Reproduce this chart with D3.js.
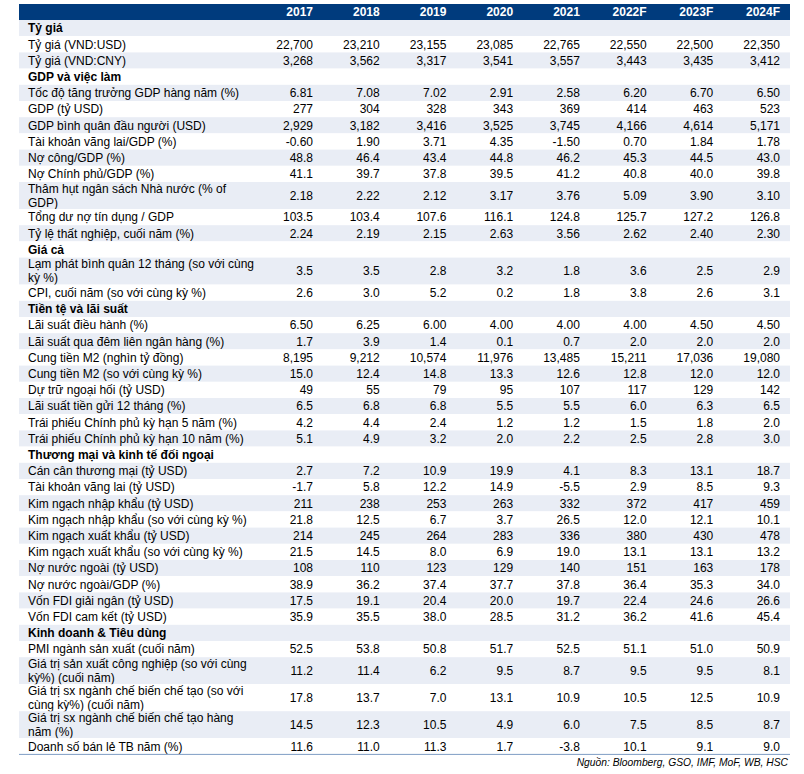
<!DOCTYPE html>
<html>
<head>
<meta charset="utf-8">
<script src="https://cdn.jsdelivr.net/npm/d3@7"></script>
<style>
  html, body { margin: 0; padding: 0; background: #fff; }
  svg { display: block; }
</style>
</head>
<body>
<div id="chart"></div>
<script>
// ---------- DATA ----------
const years = ["2017", "2018", "2019", "2020", "2021", "2022F", "2023F", "2024F"];

const sections = [
  "Tỷ giá",
  "GDP và việc làm",
  "Giá cả",
  "Tiền tệ và lãi suất",
  "Thương mại và kinh tế đối ngoại",
  "Kinh doanh & Tiêu dùng"
];

// section index each indicator belongs to
const indicatorSection = [
  0, 0,
  1, 1, 1, 1, 1, 1, 1, 1, 1,
  2, 2,
  3, 3, 3, 3, 3, 3, 3, 3,
  4, 4, 4, 4, 4, 4, 4, 4, 4, 4,
  5, 5, 5, 5, 5
];

const indicators = [
  "Tỷ giá (VND:USD)",
  "Tỷ giá (VND:CNY)",
  "Tốc độ tăng trưởng GDP hàng năm (%)",
  "GDP (tỷ USD)",
  "GDP bình quân đầu người (USD)",
  "Tài khoản vãng lai/GDP (%)",
  "Nợ công/GDP (%)",
  "Nợ Chính phủ/GDP (%)",
  "Thâm hụt ngân sách Nhà nước (% of\nGDP)",
  "Tổng dư nợ tín dụng / GDP",
  "Tỷ lệ thất nghiệp, cuối năm (%)",
  "Lạm phát bình quân 12 tháng (so với cùng\nkỳ %)",
  "CPI, cuối năm (so với cùng kỳ %)",
  "Lãi suất điều hành (%)",
  "Lãi suất qua đêm liên ngân hàng (%)",
  "Cung tiền M2 (nghìn tỷ đồng)",
  "Cung tiền M2 (so với cùng kỳ %)",
  "Dự trữ ngoại hối (tỷ USD)",
  "Lãi suất tiền gửi 12 tháng (%)",
  "Trái phiếu Chính phủ kỳ hạn 5 năm (%)",
  "Trái phiếu Chính phủ kỳ hạn 10 năm (%)",
  "Cán cân thương mại (tỷ USD)",
  "Tài khoản vãng lai (tỷ USD)",
  "Kim ngạch nhập khẩu (tỷ USD)",
  "Kim ngạch nhập khẩu (so với cùng kỳ %)",
  "Kim ngạch xuất khẩu (tỷ USD)",
  "Kim ngạch xuất khẩu (so với cùng kỳ %)",
  "Nợ nước ngoài (tỷ USD)",
  "Nợ nước ngoài/GDP (%)",
  "Vốn FDI giải ngân (tỷ USD)",
  "Vốn FDI cam kết (tỷ USD)",
  "PMI ngành sản xuất (cuối năm)",
  "Giá trị sản xuất công nghiệp (so với cùng\nkỳ%) (cuối năm)",
  "Giá trị sx ngành chế biến chế tạo (so với\ncùng kỳ%) (cuối năm)",
  "Giá trị sx ngành chế biến chế tạo hàng\nnăm (%)",
  "Doanh số bán lẻ TB năm (%)"
];

// decimals shown for each indicator
const decimals = [
  0, 0,
  2, 0, 0, 2, 1, 1, 2, 1, 2,
  1, 1,
  2, 1, 0, 1, 0, 1, 1, 1,
  1, 1, 0, 1, 0, 1, 0, 1, 1, 1,
  1, 1, 1, 1, 1
];

const values = [
  [22700, 23210, 23155, 23085, 22765, 22550, 22500, 22350],
  [3268, 3562, 3317, 3541, 3557, 3443, 3435, 3412],
  [6.81, 7.08, 7.02, 2.91, 2.58, 6.20, 6.70, 6.50],
  [277, 304, 328, 343, 369, 414, 463, 523],
  [2929, 3182, 3416, 3525, 3745, 4166, 4614, 5171],
  [-0.60, 1.90, 3.71, 4.35, -1.50, 0.70, 1.84, 1.78],
  [48.8, 46.4, 43.4, 44.8, 46.2, 45.3, 44.5, 43.0],
  [41.1, 39.7, 37.8, 39.5, 41.2, 40.8, 40.0, 39.8],
  [2.18, 2.22, 2.12, 3.17, 3.76, 5.09, 3.90, 3.10],
  [103.5, 103.4, 107.6, 116.1, 124.8, 125.7, 127.2, 126.8],
  [2.24, 2.19, 2.15, 2.63, 3.56, 2.62, 2.40, 2.30],
  [3.5, 3.5, 2.8, 3.2, 1.8, 3.6, 2.5, 2.9],
  [2.6, 3.0, 5.2, 0.2, 1.8, 3.8, 2.6, 3.1],
  [6.50, 6.25, 6.00, 4.00, 4.00, 4.00, 4.50, 4.50],
  [1.7, 3.9, 1.4, 0.1, 0.7, 2.0, 2.0, 2.0],
  [8195, 9212, 10574, 11976, 13485, 15211, 17036, 19080],
  [15.0, 12.4, 14.8, 13.3, 12.6, 12.8, 12.0, 12.0],
  [49, 55, 79, 95, 107, 117, 129, 142],
  [6.5, 6.8, 6.8, 5.5, 5.5, 6.0, 6.3, 6.5],
  [4.2, 4.4, 2.4, 1.2, 1.2, 1.5, 1.8, 2.0],
  [5.1, 4.9, 3.2, 2.0, 2.2, 2.5, 2.8, 3.0],
  [2.7, 7.2, 10.9, 19.9, 4.1, 8.3, 13.1, 18.7],
  [-1.7, 5.8, 12.2, 14.9, -5.5, 2.9, 8.5, 9.3],
  [211, 238, 253, 263, 332, 372, 417, 459],
  [21.8, 12.5, 6.7, 3.7, 26.5, 12.0, 12.1, 10.1],
  [214, 245, 264, 283, 336, 380, 430, 478],
  [21.5, 14.5, 8.0, 6.9, 19.0, 13.1, 13.1, 13.2],
  [108, 110, 123, 129, 140, 151, 163, 178],
  [38.9, 36.2, 37.4, 37.7, 37.8, 36.4, 35.3, 34.0],
  [17.5, 19.1, 20.4, 20.0, 19.7, 22.4, 24.6, 26.6],
  [35.9, 35.5, 38.0, 28.5, 31.2, 36.2, 41.6, 45.4],
  [52.5, 53.8, 50.8, 51.7, 52.5, 51.1, 51.0, 50.9],
  [11.2, 11.4, 6.2, 9.5, 8.7, 9.5, 9.5, 8.1],
  [17.8, 13.7, 7.0, 13.1, 10.9, 10.5, 12.5, 10.9],
  [14.5, 12.3, 10.5, 4.9, 6.0, 7.5, 8.5, 8.7],
  [11.6, 11.0, 11.3, 1.7, -3.8, 10.1, 9.1, 9.0]
];

const sourceNote = "Nguồn: Bloomberg, GSO, IMF, MoF, WB, HSC";

// ---------- LAYOUT ----------
const W = 804, H = 774;
const tableLeft = 19, tableRight = 790;
const headerTop = 4, headerH = 16;
const rowH = 16.2, tallRowH = 27, lineGap = 14;
const labelX = 28;
const font = "'Liberation Sans', Arial, Helvetica, sans-serif";
const fontSize = 12;
const navy = "#003B7D";
const stripe = "#E9EDF5";

// build row list (section rows + indicator rows)
const rows = [];
indicators.forEach((label, i) => {
  const s = indicatorSection[i];
  if (i === 0 || indicatorSection[i - 1] !== s) {
    rows.push({ type: "section", label: sections[s] });
  }
  rows.push({ type: "data", label, values: values[i], dp: decimals[i] });
});

let yCursor = headerTop + headerH;
rows.forEach(r => {
  r.lines = r.label.split("\n");
  r.h = r.lines.length > 1 ? tallRowH : rowH;
  r.y0 = yCursor;
  yCursor += r.h;
});
const tableBottom = yCursor;

const x = d3.scalePoint().domain(years).range([313, 780]);

const loc = d3.formatLocale({ decimal: ".", thousands: ",", grouping: [3], currency: ["", ""], minus: "-" });
const fmt = dp => loc.format(dp === 0 ? ",.0f" : `,.${dp}f`);

// ---------- DRAW ----------
const svg = d3.select("#chart").append("svg")
  .attr("width", W).attr("height", H)
  .style("font-family", font);

// header
svg.append("rect")
  .attr("x", tableLeft).attr("y", headerTop)
  .attr("width", tableRight - tableLeft).attr("height", headerH)
  .attr("fill", navy);

svg.append("g").selectAll("text").data(years).join("text")
  .attr("x", d => x(d))
  .attr("y", headerTop + headerH / 2 + 4.3)
  .attr("text-anchor", "end")
  .attr("font-size", fontSize)
  .attr("font-weight", "bold")
  .attr("fill", "#fff")
  .text(d => d);

// rows
const rowG = svg.append("g").selectAll("g").data(rows).join("g")
  .attr("transform", d => `translate(0,${d.y0})`);

rowG.append("rect")
  .attr("x", tableLeft).attr("y", 0)
  .attr("width", tableRight - tableLeft)
  .attr("height", d => d.h)
  .attr("fill", (d, i) => i % 2 === 0 ? stripe : "#fff");

rowG.each(function (d) {
  const g = d3.select(this);
  const cy = d.h / 2;
  const n = d.lines.length;
  g.selectAll("text.lbl").data(d.lines).join("text")
    .attr("class", "lbl")
    .attr("x", labelX)
    .attr("y", (l, j) => cy + 4.3 + (j - (n - 1) / 2) * lineGap)
    .attr("font-size", fontSize)
    .attr("font-weight", d.type === "section" ? "bold" : "normal")
    .attr("fill", "#000")
    .text(l => l);
  if (d.type === "data") {
    const f = fmt(d.dp);
    g.selectAll("text.val").data(d.values).join("text")
      .attr("class", "val")
      .attr("x", (v, j) => x(years[j]))
      .attr("y", cy + 4.3)
      .attr("text-anchor", "end")
      .attr("font-size", fontSize)
      .attr("fill", "#000")
      .text(v => f(v));
  }
});

// bottom rule
svg.append("line")
  .attr("x1", tableLeft).attr("x2", tableRight)
  .attr("y1", tableBottom).attr("y2", tableBottom)
  .attr("stroke", "#7F9DC4").attr("stroke-width", 1);

// source
svg.append("text")
  .attr("x", 788).attr("y", tableBottom + 12)
  .attr("text-anchor", "end")
  .attr("font-size", 10.3)
  .attr("font-style", "italic")
  .attr("fill", "#000")
  .text(sourceNote);
</script>
</body>
</html>
